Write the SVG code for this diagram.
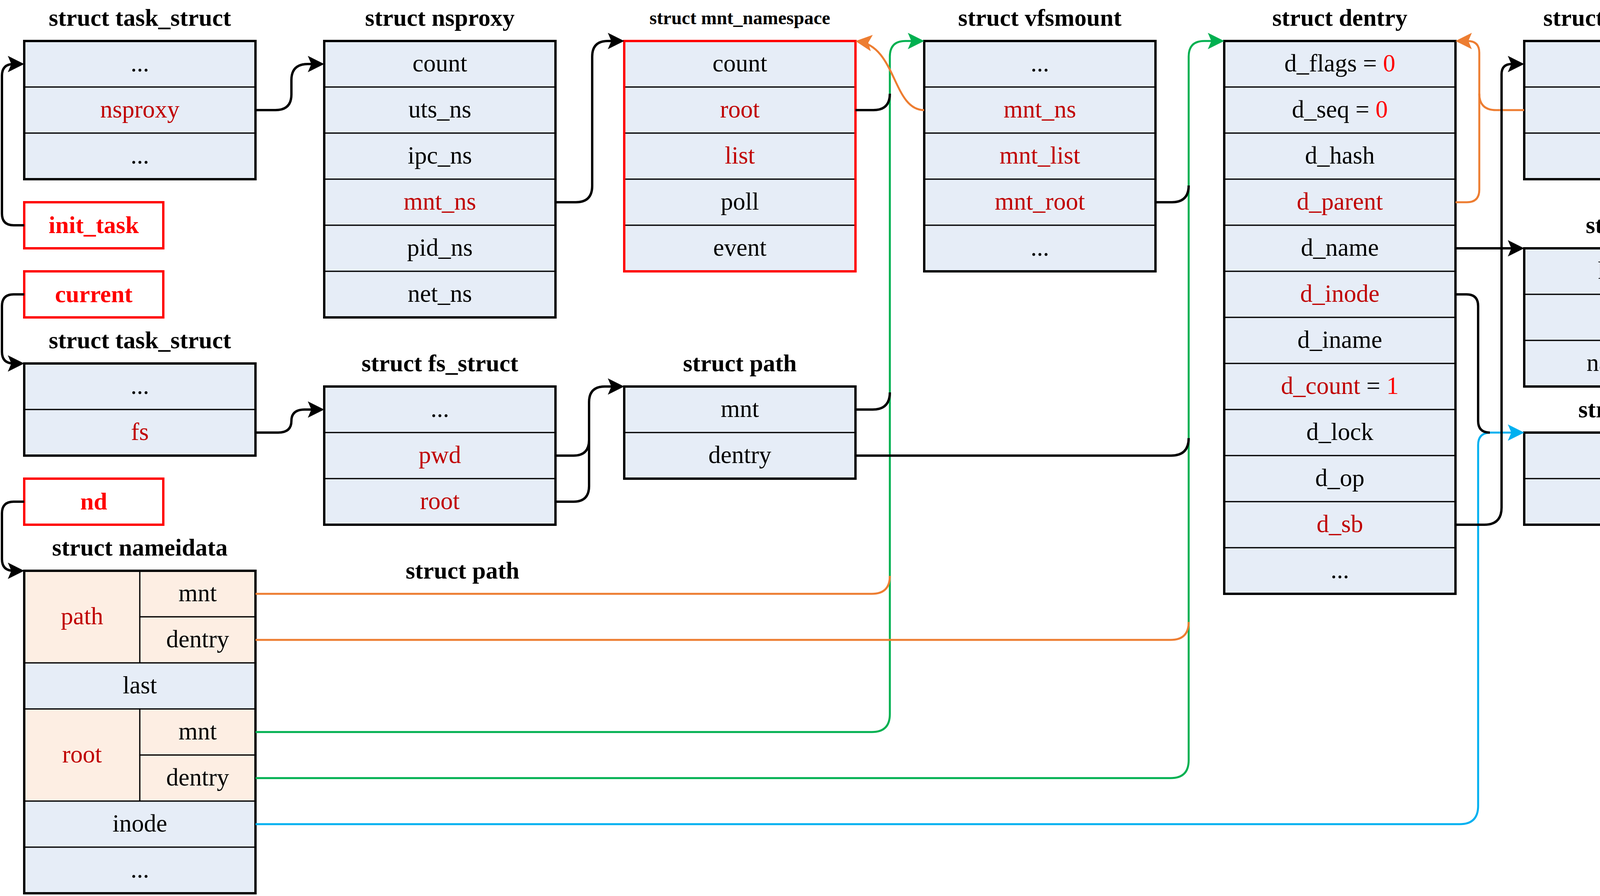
<svg xmlns="http://www.w3.org/2000/svg" width="4557" height="2295" viewBox="0 0 4557 2295">
<style>
.c{fill:#E6EDF7;stroke:#000;stroke-width:3}
.p{fill:#FDEEE3;stroke:#000;stroke-width:3}
.o{fill:none;stroke:#000;stroke-width:6}
.or{fill:none;stroke:#FF0000;stroke-width:6}
.lb{fill:#fff;stroke:#FF0000;stroke-width:6}
text{font-family:"Liberation Serif","Times New Roman",serif;font-size:63px;text-anchor:middle;fill:#000}
.h{font-weight:bold;font-size:62px}
.hs{font-weight:bold;font-size:48px}
.r{fill:#C00000}
.v{fill:#FF0000}
.lt{fill:#FF0000;font-weight:bold;font-size:62px}
.k{fill:none;stroke:#000;stroke-width:6}
.og{fill:none;stroke:#ED7D31;stroke-width:5}
.gr{fill:none;stroke:#00B050;stroke-width:5}
.bl{fill:none;stroke:#00B0F0;stroke-width:5}
</style>
<defs>
<marker id="ak" markerUnits="userSpaceOnUse" viewBox="0 0 42 42" markerWidth="42" markerHeight="42" refX="36" refY="21" orient="auto"><path d="M0,0 L42,21 L0,42 L9,21 z" fill="#000"/></marker>
<marker id="ao" markerUnits="userSpaceOnUse" viewBox="0 0 42 42" markerWidth="42" markerHeight="42" refX="36" refY="21" orient="auto"><path d="M0,0 L42,21 L0,42 L9,21 z" fill="#ED7D31"/></marker>
<marker id="ag" markerUnits="userSpaceOnUse" viewBox="0 0 42 42" markerWidth="42" markerHeight="42" refX="36" refY="21" orient="auto"><path d="M0,0 L42,21 L0,42 L9,21 z" fill="#00B050"/></marker>
<marker id="ab" markerUnits="userSpaceOnUse" viewBox="0 0 42 42" markerWidth="42" markerHeight="42" refX="36" refY="21" orient="auto"><path d="M0,0 L42,21 L0,42 L9,21 z" fill="#00B0F0"/></marker>
</defs>
<rect width="4557" height="2295" fill="#fff"/>

<g id="task_struct1">
<text class="h" x="358" y="66">struct task_struct</text>
<rect class="c" x="62" y="105" width="592" height="118"/>
<rect class="c" x="62" y="223" width="592" height="118"/>
<rect class="c" x="62" y="341" width="592" height="118"/>
<rect class="o" x="62" y="105" width="592" height="354"/>
<text x="358" y="183">...</text>
<text class="r" x="358" y="301">nsproxy</text>
<text x="358" y="419">...</text>
</g>

<g id="init_task">
<rect class="lb" x="62" y="518" width="356" height="118"/>
<text class="lt" x="240" y="597">init_task</text>
</g>

<g id="current">
<rect class="lb" x="62" y="695" width="356" height="118"/>
<text class="lt" x="240" y="774">current</text>
</g>

<g id="task_struct2">
<text class="h" x="358" y="892">struct task_struct</text>
<rect class="c" x="62" y="931" width="592" height="118"/>
<rect class="c" x="62" y="1049" width="592" height="118"/>
<rect class="o" x="62" y="931" width="592" height="236"/>
<text x="358" y="1009">...</text>
<text class="r" x="358" y="1127">fs</text>
</g>

<g id="nd">
<rect class="lb" x="62" y="1226" width="356" height="118"/>
<text class="lt" x="240" y="1305">nd</text>
</g>

<g id="nameidata">
<text class="h" x="358" y="1423">struct nameidata</text>
<rect class="p" x="62" y="1462" width="296" height="236"/>
<rect class="p" x="358" y="1462" width="296" height="118"/>
<rect class="p" x="358" y="1580" width="296" height="118"/>
<rect class="c" x="62" y="1698" width="592" height="118"/>
<rect class="p" x="62" y="1816" width="296" height="236"/>
<rect class="p" x="358" y="1816" width="296" height="118"/>
<rect class="p" x="358" y="1934" width="296" height="118"/>
<rect class="c" x="62" y="2052" width="592" height="118"/>
<rect class="c" x="62" y="2170" width="592" height="118"/>
<rect class="o" x="62" y="1462" width="592" height="826"/>
<text class="r" x="210" y="1599">path</text>
<text x="506" y="1540">mnt</text>
<text x="506" y="1658">dentry</text>
<text x="358" y="1776">last</text>
<text class="r" x="210" y="1953">root</text>
<text x="506" y="1894">mnt</text>
<text x="506" y="2012">dentry</text>
<text x="358" y="2130">inode</text>
<text x="358" y="2248">...</text>
</g>

<g id="nsproxy">
<text class="h" x="1126" y="66">struct nsproxy</text>
<rect class="c" x="830" y="105" width="592" height="118"/>
<rect class="c" x="830" y="223" width="592" height="118"/>
<rect class="c" x="830" y="341" width="592" height="118"/>
<rect class="c" x="830" y="459" width="592" height="118"/>
<rect class="c" x="830" y="577" width="592" height="118"/>
<rect class="c" x="830" y="695" width="592" height="118"/>
<rect class="o" x="830" y="105" width="592" height="708"/>
<text x="1126" y="183">count</text>
<text x="1126" y="301">uts_ns</text>
<text x="1126" y="419">ipc_ns</text>
<text class="r" x="1126" y="537">mnt_ns</text>
<text x="1126" y="655">pid_ns</text>
<text x="1126" y="773">net_ns</text>
</g>

<g id="fs_struct">
<text class="h" x="1126" y="951">struct fs_struct</text>
<rect class="c" x="830" y="990" width="592" height="118"/>
<rect class="c" x="830" y="1108" width="592" height="118"/>
<rect class="c" x="830" y="1226" width="592" height="118"/>
<rect class="o" x="830" y="990" width="592" height="354"/>
<text x="1126" y="1068">...</text>
<text class="r" x="1126" y="1186">pwd</text>
<text class="r" x="1126" y="1304">root</text>
</g>

<g id="mnt_namespace">
<text class="hs" x="1894" y="62">struct mnt_namespace</text>
<rect class="c" x="1598" y="105" width="592" height="118"/>
<rect class="c" x="1598" y="223" width="592" height="118"/>
<rect class="c" x="1598" y="341" width="592" height="118"/>
<rect class="c" x="1598" y="459" width="592" height="118"/>
<rect class="c" x="1598" y="577" width="592" height="118"/>
<rect class="or" x="1598" y="105" width="592" height="590"/>
<text x="1894" y="183">count</text>
<text class="r" x="1894" y="301">root</text>
<text class="r" x="1894" y="419">list</text>
<text x="1894" y="537">poll</text>
<text x="1894" y="655">event</text>
</g>

<g id="path">
<text class="h" x="1894" y="951">struct path</text>
<rect class="c" x="1598" y="990" width="592" height="118"/>
<rect class="c" x="1598" y="1108" width="592" height="118"/>
<rect class="o" x="1598" y="990" width="592" height="236"/>
<text x="1894" y="1068">mnt</text>
<text x="1894" y="1186">dentry</text>
</g>

<g id="path_label">
<text class="h" x="1184" y="1482">struct path</text>
</g>

<g id="vfsmount">
<text class="h" x="2662" y="66">struct vfsmount</text>
<rect class="c" x="2366" y="105" width="592" height="118"/>
<rect class="c" x="2366" y="223" width="592" height="118"/>
<rect class="c" x="2366" y="341" width="592" height="118"/>
<rect class="c" x="2366" y="459" width="592" height="118"/>
<rect class="c" x="2366" y="577" width="592" height="118"/>
<rect class="o" x="2366" y="105" width="592" height="590"/>
<text x="2662" y="183">...</text>
<text class="r" x="2662" y="301">mnt_ns</text>
<text class="r" x="2662" y="419">mnt_list</text>
<text class="r" x="2662" y="537">mnt_root</text>
<text x="2662" y="655">...</text>
</g>

<g id="dentry">
<text class="h" x="3430" y="66">struct dentry</text>
<rect class="c" x="3134" y="105" width="592" height="118"/>
<rect class="c" x="3134" y="223" width="592" height="118"/>
<rect class="c" x="3134" y="341" width="592" height="118"/>
<rect class="c" x="3134" y="459" width="592" height="118"/>
<rect class="c" x="3134" y="577" width="592" height="118"/>
<rect class="c" x="3134" y="695" width="592" height="118"/>
<rect class="c" x="3134" y="813" width="592" height="118"/>
<rect class="c" x="3134" y="931" width="592" height="118"/>
<rect class="c" x="3134" y="1049" width="592" height="118"/>
<rect class="c" x="3134" y="1167" width="592" height="118"/>
<rect class="c" x="3134" y="1285" width="592" height="118"/>
<rect class="c" x="3134" y="1403" width="592" height="118"/>
<rect class="o" x="3134" y="105" width="592" height="1416"/>
<text x="3430" y="183">d_flags = <tspan class="v">0</tspan></text>
<text x="3430" y="301">d_seq = <tspan class="v">0</tspan></text>
<text x="3430" y="419">d_hash</text>
<text class="r" x="3430" y="537">d_parent</text>
<text x="3430" y="655">d_name</text>
<text class="r" x="3430" y="773">d_inode</text>
<text x="3430" y="891">d_iname</text>
<text x="3430" y="1009"><tspan class="r">d_count</tspan> = <tspan class="v">1</tspan></text>
<text x="3430" y="1127">d_lock</text>
<text x="3430" y="1245">d_op</text>
<text class="r" x="3430" y="1363">d_sb</text>
<text x="3430" y="1481">...</text>
</g>

<g id="super_block">
<text class="h" x="4198" y="66">struct super_block</text>
<rect class="c" x="3902" y="105" width="592" height="118"/>
<rect class="c" x="3902" y="223" width="592" height="118"/>
<rect class="c" x="3902" y="341" width="592" height="118"/>
<rect class="o" x="3902" y="105" width="592" height="354"/>
<text x="4198" y="183">...</text>
<text class="r" x="4198" y="301">s_root</text>
<text x="4198" y="419">...</text>
</g>

<g id="qstr">
<text class="h" x="4198" y="597">struct qstr</text>
<rect class="c" x="3902" y="636" width="592" height="118"/>
<rect class="c" x="3902" y="754" width="592" height="118"/>
<rect class="c" x="3902" y="872" width="592" height="118"/>
<rect class="o" x="3902" y="636" width="592" height="354"/>
<text x="4198" y="714">hash = <tspan class="v">0</tspan></text>
<text x="4198" y="832"><tspan class="r">len</tspan> = <tspan class="v">1</tspan></text>
<text x="4198" y="950">name = "<tspan class="v">/</tspan>"</text>
</g>

<g id="inode">
<text class="h" x="4198" y="1069">struct inode</text>
<rect class="c" x="3902" y="1108" width="592" height="118"/>
<rect class="c" x="3902" y="1226" width="592" height="118"/>
<rect class="o" x="3902" y="1108" width="592" height="236"/>
<text x="4198" y="1186">...</text>
<text class="r" x="4198" y="1304">i_sb</text>
</g>

<g id="connectors">
<path class="gr" d="M654 1875 H2232 Q2278 1875 2278 1829 V145 Q2278 105 2318 105 H2360" marker-end="url(#ag)"/>
<path class="gr" d="M654 1993 H2997 Q3043 1993 3043 1947 V145 Q3043 105 3083 105 H3128" marker-end="url(#ag)"/>
<path class="og" d="M654 1521 H2232 Q2278 1521 2278 1475"/>
<path class="og" d="M654 1639 H2997 Q3043 1639 3043 1593"/>
<path class="og" d="M2366 282 C2285 282 2295 118 2196 106" marker-end="url(#ao)"/>
<path class="og" d="M3726 518 H3755 Q3787 518 3787 486 V135 Q3787 105 3757 105 H3732" marker-end="url(#ao)"/>
<path class="og" d="M3902 282 H3830 Q3787 282 3787 240"/>
<path class="bl" d="M654 2111 H3737 Q3784 2111 3784 2064 V1140 Q3784 1108 3816 1108 H3896" marker-end="url(#ab)"/>
<path class="k" d="M62 577 H35 Q5 577 5 547 V194 Q5 164 35 164 H56" marker-end="url(#ak)"/>
<path class="k" d="M654 282 H705 Q746 282 746 242 V205 Q746 164 788 164 H824" marker-end="url(#ak)"/>
<path class="k" d="M1422 518 H1474 Q1516 518 1516 476 V145 Q1516 105 1556 105 H1592" marker-end="url(#ak)"/>
<path class="k" d="M62 754 H35 Q5 754 5 784 V901 Q5 931 35 931 H56" marker-end="url(#ak)"/>
<path class="k" d="M654 1108 H712 Q746 1108 746 1078 Q746 1049 780 1049 H824" marker-end="url(#ak)"/>
<path class="k" d="M1422 1167 H1468 Q1508 1167 1508 1127 V1030 Q1508 990 1548 990 H1592" marker-end="url(#ak)"/>
<path class="k" d="M1422 1285 H1468 Q1508 1285 1508 1245 V1127"/>
<path class="k" d="M62 1285 H35 Q5 1285 5 1315 V1432 Q5 1462 35 1462 H56" marker-end="url(#ak)"/>
<path class="k" d="M2190 282 H2236 Q2278 282 2278 240"/>
<path class="k" d="M2190 1049 H2234 Q2278 1049 2278 1005"/>
<path class="k" d="M2958 518 H3000 Q3043 518 3043 475"/>
<path class="k" d="M2190 1167 H2998 Q3043 1167 3043 1122"/>
<path class="k" d="M3726 636 H3896" marker-end="url(#ak)"/>
<path class="k" d="M3726 754 H3754 Q3784 754 3784 784 V1078 Q3784 1108 3814 1108"/>
<path class="k" d="M3726 1344 H3800 Q3844 1344 3844 1300 V190 Q3844 164 3870 164 H3896" marker-end="url(#ak)"/>
<path class="k" d="M4494 1285 H4520 Q4552 1285 4552 1253 V192 Q4552 164 4530 164 H4500" marker-end="url(#ak)"/>
</g>
</svg>
